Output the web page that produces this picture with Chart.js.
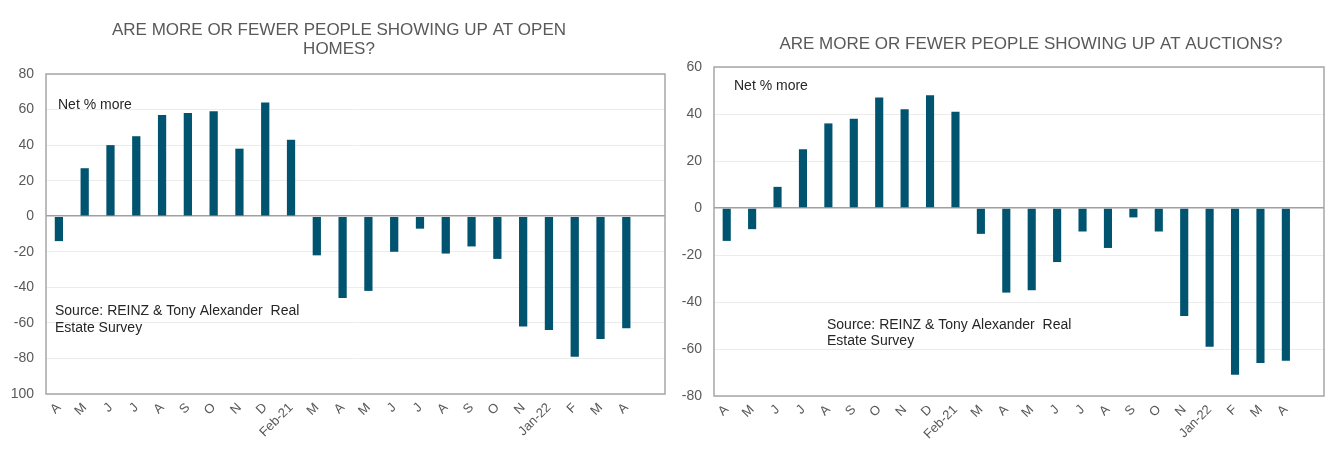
<!DOCTYPE html>
<html>
<head>
<meta charset="utf-8">
<script src="https://cdn.jsdelivr.net/npm/chart.js@4.4.1/dist/chart.umd.min.js"></script>
<style>
  html, body { margin: 0; padding: 0; background: #fff; }
  body { width: 1330px; height: 455px; position: relative; overflow: hidden; }
  .wrap { position: absolute; top: 0; height: 455px; }
  #leftWrap { left: 0; width: 680px; }
  #rightWrap { left: 670px; width: 660px; }
</style>
</head>
<body>
<div class="wrap" id="leftWrap"><canvas id="openHomes" width="680" height="455"></canvas></div>
<div class="wrap" id="rightWrap"><canvas id="auctions" width="660" height="455"></canvas></div>
<script>
// Month labels (last slot is empty, as in the original)
const months = ['A', 'M', 'J', 'J', 'A', 'S', 'O', 'N', 'D', 'Feb-21', 'M', 'A', 'M', 'J', 'J', 'A', 'S', 'O', 'N', 'Jan-22', 'F', 'M', 'A', ''];

// Net % more people showing up
const openHomesNet = [-14, 27, 40, 45, 57, 58, 59, 38, 64, 43, -22, -46, -42, -20, -7, -21, -17, -24, -62, -64, -79, -69, -63, null];
const auctionsNet = [-14, -9, 9, 25, 36, 38, 47, 42, 48, 41, -11, -36, -35, -23, -10, -17, -4, -10, -46, -59, -71, -66, -65, null];

// Y axis ranges
const openHomesTicks = { min: -100, max: 80, step: 20 };
const auctionsTicks = { min: -80, max: 60, step: 20 };

const barColor = '#00546f';
const greyText = '#595959';
const fontFamily = '"Liberation Sans", Arial, sans-serif';

// box around plot + titles + notes
const framePlugin = {
    id: 'frame',
    afterDraw(chart, args, opts) {
        const ctx = chart.ctx;
        const a = chart.chartArea;
        ctx.save();
        ctx.strokeStyle = '#a6a6a6';
        ctx.lineWidth = 1.5;
        ctx.strokeRect(a.left, a.top, a.right - a.left, a.bottom - a.top);

        ctx.fillStyle = greyText;
        ctx.font = '17px ' + fontFamily;
        ctx.textAlign = 'center';
        ctx.textBaseline = 'middle';
        opts.title.forEach((line, i) => {
            ctx.fillText(line, opts.titleX, opts.titleY + i * 19);
        });

        ctx.fillStyle = '#262626';
        ctx.font = '14px ' + fontFamily;
        ctx.textAlign = 'left';
        opts.notes.forEach(n => ctx.fillText(n.text, n.x, n.y));
        ctx.restore();
    }
};

function makeChart(id, values, range, frame, sizes) {
    return new Chart(document.getElementById(id), {
        type: 'bar',
        data: {
            labels: months,
            datasets: [{
                data: values,
                backgroundColor: barColor,
                barPercentage: 0.32,
                categoryPercentage: 1.0
            }]
        },
        options: {
            responsive: false,
            animation: false,
            layout: {
                padding: { top: sizes.top, right: sizes.right, left: 0, bottom: 0 }
            },
            scales: {
                x: {
                    grid: { display: false, drawTicks: false },
                    border: { display: false },
                    ticks: {
                        autoSkip: false,
                        maxRotation: 45,
                        minRotation: 45,
                        padding: 6,
                        color: greyText,
                        font: { family: fontFamily, size: 13 }
                    },
                    afterFit: function(scale) { scale.height = sizes.xHeight; }
                },
                y: {
                    min: range.min,
                    max: range.max,
                    grid: {
                        drawTicks: false,
                        color: ctx => ctx.tick && ctx.tick.value === 0 ? '#a0a0a0' : '#ececec',
                        lineWidth: ctx => ctx.tick && ctx.tick.value === 0 ? 1.5 : 1
                    },
                    border: { display: false },
                    ticks: {
                        stepSize: range.step,
                        padding: 12,
                        color: greyText,
                        font: { family: fontFamily, size: 14 },
                        callback: v => v === -100 ? '100' : v
                    },
                    afterFit: function(scale) { scale.width = sizes.yWidth; }
                }
            },
            plugins: {
                legend: { display: false },
                tooltip: { enabled: false },
                frame: frame
            }
        },
        plugins: [framePlugin]
    });
}

makeChart('openHomes', openHomesNet, openHomesTicks, {
    title: ['ARE MORE OR FEWER PEOPLE SHOWING UP AT OPEN', 'HOMES?'],
    titleX: 339, titleY: 30,
    notes: [
        { text: 'Net % more', x: 58, y: 105 },
        { text: 'Source: REINZ & Tony Alexander  Real', x: 55, y: 311 },
        { text: 'Estate Survey', x: 55, y: 328 }
    ]
}, { top: 74, right: 15, xHeight: 61, yWidth: 46 });

makeChart('auctions', auctionsNet, auctionsTicks, {
    title: ['ARE MORE OR FEWER PEOPLE SHOWING UP AT AUCTIONS?'],
    titleX: 361, titleY: 44,
    notes: [
        { text: 'Net % more', x: 64, y: 86 },
        { text: 'Source: REINZ & Tony Alexander  Real', x: 157, y: 325 },
        { text: 'Estate Survey', x: 157, y: 341 }
    ]
}, { top: 67, right: 6, xHeight: 59, yWidth: 44 });
</script>
</body>
</html>
